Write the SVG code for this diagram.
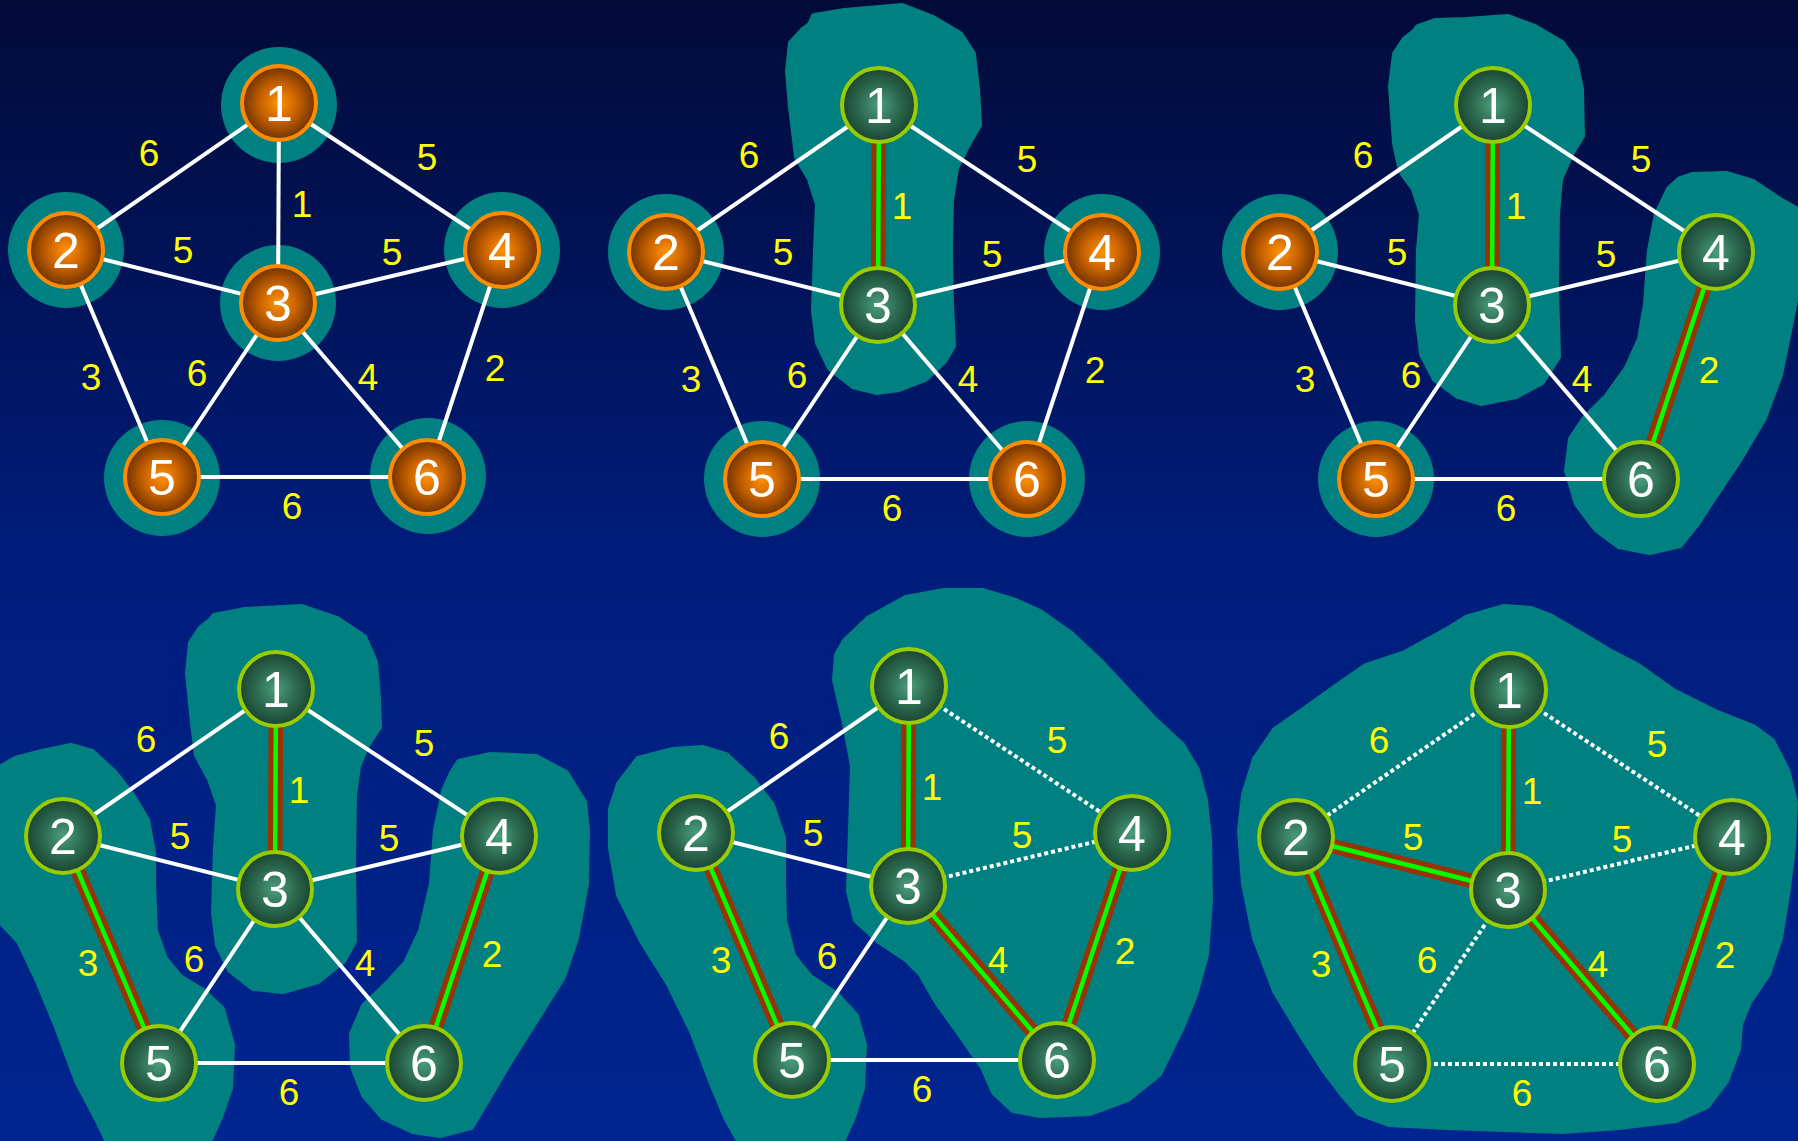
<svg xmlns="http://www.w3.org/2000/svg" width="1798" height="1141" viewBox="0 0 1798 1141">
<defs>
<linearGradient id="bg" x1="0" y1="0" x2="0" y2="1">
<stop offset="0" stop-color="#020a38"/>
<stop offset="0.5" stop-color="#001d7c"/>
<stop offset="1" stop-color="#00258f"/>
</linearGradient>
<radialGradient id="og"><stop offset="0" stop-color="#ff9208"/><stop offset="0.5" stop-color="#c86200"/><stop offset="1" stop-color="#6e3200"/></radialGradient>
<radialGradient id="gg"><stop offset="0" stop-color="#4a9e7c"/><stop offset="0.55" stop-color="#2c6a4f"/><stop offset="1" stop-color="#1a4431"/></radialGradient>
<style>
.t{fill:#008080}
.tb{fill:#008080;stroke:#008080;stroke-width:6;stroke-linejoin:round}
.e{stroke:#fff;stroke-width:4}
.d{stroke:#fff;stroke-width:4;stroke-dasharray:4 3}
.cb{stroke:#993300;stroke-width:14.5}
.cg{stroke:#00ff00;stroke-width:4.5}
.no circle{fill:url(#og);stroke:#ff8c00;stroke-width:4}
.ng circle{fill:url(#gg);stroke:#99cc00;stroke-width:4}
.nl{font-family:"Liberation Sans",Arial,sans-serif;font-size:50px;fill:#fff;text-anchor:middle}
.el{font-family:"Liberation Sans",Arial,sans-serif;font-size:37px;fill:#ffff00;text-anchor:middle}
</style>
</defs>
<rect width="1798" height="1141" fill="url(#bg)"/>

<!-- Panel 1 -->
<g id="panel1">
<g id="p1-regions">
<circle class="t" cx="279" cy="105" r="58"/>
<circle class="t" cx="66" cy="250" r="58"/>
<circle class="t" cx="278" cy="303" r="58"/>
<circle class="t" cx="502" cy="250" r="58"/>
<circle class="t" cx="162" cy="478" r="58"/>
<circle class="t" cx="428" cy="476" r="58"/>
</g>
<g id="p1-connectors">
<line class="e" x1="279" y1="103" x2="66" y2="250"/>
<line class="e" x1="279" y1="103" x2="502" y2="250"/>
<line class="e" x1="279" y1="103" x2="278" y2="303"/>
<line class="e" x1="66" y1="250" x2="278" y2="303"/>
<line class="e" x1="278" y1="303" x2="502" y2="250"/>
<line class="e" x1="66" y1="250" x2="162" y2="477"/>
<line class="e" x1="278" y1="303" x2="162" y2="477"/>
<line class="e" x1="278" y1="303" x2="427" y2="477"/>
<line class="e" x1="502" y1="250" x2="427" y2="477"/>
<line class="e" x1="162" y1="477" x2="427" y2="477"/>
<text class="el" x="149" y="166">6</text>
<text class="el" x="427" y="170">5</text>
<text class="el" x="302" y="217">1</text>
<text class="el" x="183" y="263">5</text>
<text class="el" x="392" y="265">5</text>
<text class="el" x="91" y="390">3</text>
<text class="el" x="197" y="386">6</text>
<text class="el" x="368" y="390">4</text>
<text class="el" x="495" y="381">2</text>
<text class="el" x="292" y="519">6</text>
</g>
<g id="p1-n1" class="no" transform="translate(279,103)"><circle r="37"/><text class="nl" y="18">1</text></g>
<g id="p1-n2" class="no" transform="translate(66,250)"><circle r="37"/><text class="nl" y="18">2</text></g>
<g id="p1-n3" class="no" transform="translate(278,303)"><circle r="37"/><text class="nl" y="18">3</text></g>
<g id="p1-n4" class="no" transform="translate(502,250)"><circle r="37"/><text class="nl" y="18">4</text></g>
<g id="p1-n5" class="no" transform="translate(162,477)"><circle r="37"/><text class="nl" y="18">5</text></g>
<g id="p1-n6" class="no" transform="translate(427,477)"><circle r="37"/><text class="nl" y="18">6</text></g>
</g>

<!-- Panel 2 -->
<g id="panel2">
<g id="p2-regions">
<polygon class="tb" points="814,16 845,11 902,6 933,18 960,34 973,54 977,89 979,125 967,146 956,168 951,200 950,250 951,304 953,346 944,361 925,379 899,389 877,392 853,386 830,368 818,343 814,311 816,250 818,204 810,179 797,157 791,107 788,71 791,43 803,30 810,25"/>
<circle class="t" cx="666" cy="252" r="58"/>
<circle class="t" cx="1102" cy="252" r="58"/>
<circle class="t" cx="762" cy="479" r="58"/>
<circle class="t" cx="1027" cy="479" r="58"/>
</g>
<g transform="translate(600,2)">
<g id="p2-connectors">
<line class="e" x1="279" y1="103" x2="66" y2="250"/>
<line class="e" x1="279" y1="103" x2="502" y2="250"/>
<line class="cb" x1="279" y1="103" x2="278" y2="303"/>
<line class="cg" x1="279" y1="103" x2="278" y2="303"/>
<line class="e" x1="66" y1="250" x2="278" y2="303"/>
<line class="e" x1="278" y1="303" x2="502" y2="250"/>
<line class="e" x1="66" y1="250" x2="162" y2="477"/>
<line class="e" x1="278" y1="303" x2="162" y2="477"/>
<line class="e" x1="278" y1="303" x2="427" y2="477"/>
<line class="e" x1="502" y1="250" x2="427" y2="477"/>
<line class="e" x1="162" y1="477" x2="427" y2="477"/>
<text class="el" x="149" y="166">6</text>
<text class="el" x="427" y="170">5</text>
<text class="el" x="302" y="217">1</text>
<text class="el" x="183" y="263">5</text>
<text class="el" x="392" y="265">5</text>
<text class="el" x="91" y="390">3</text>
<text class="el" x="197" y="386">6</text>
<text class="el" x="368" y="390">4</text>
<text class="el" x="495" y="381">2</text>
<text class="el" x="292" y="519">6</text>
</g>
<g id="p2-n1" class="ng" transform="translate(279,103)"><circle r="37"/><text class="nl" y="18">1</text></g>
<g id="p2-n2" class="no" transform="translate(66,250)"><circle r="37"/><text class="nl" y="18">2</text></g>
<g id="p2-n3" class="ng" transform="translate(278,303)"><circle r="37"/><text class="nl" y="18">3</text></g>
<g id="p2-n4" class="no" transform="translate(502,250)"><circle r="37"/><text class="nl" y="18">4</text></g>
<g id="p2-n5" class="no" transform="translate(162,477)"><circle r="37"/><text class="nl" y="18">5</text></g>
<g id="p2-n6" class="no" transform="translate(427,477)"><circle r="37"/><text class="nl" y="18">6</text></g>
</g>
</g>

<!-- Panel 3 -->
<g id="panel3">
<g id="p3-regions">
<polygon class="tb" points="1418,27 1435,21 1466,20 1508,17 1535,27 1562,43 1575,61 1581,89 1582,136 1571,154 1560,179 1557,214 1556,286 1558,357 1542,382 1516,396 1481,403 1458,396 1435,379 1422,354 1418,321 1419,250 1422,214 1414,189 1401,171 1395,143 1391,86 1395,54 1405,39 1414,32"/>
<polygon class="tb" points="1692,175 1726,174 1753,182 1780,200 1805,214 1805,250 1791,321 1780,375 1764,418 1741,457 1715,496 1696,525 1680,545 1650,552 1619,546 1596,529 1577,504 1567,471 1571,439 1585,418 1607,396 1627,368 1640,339 1646,304 1650,250 1657,214 1669,189 1680,179"/>
<circle class="t" cx="1280" cy="252" r="58"/>
<circle class="t" cx="1376" cy="479" r="58"/>
</g>
<g transform="translate(1214,2)">
<g id="p3-connectors">
<line class="e" x1="279" y1="103" x2="66" y2="250"/>
<line class="e" x1="279" y1="103" x2="502" y2="250"/>
<line class="cb" x1="279" y1="103" x2="278" y2="303"/>
<line class="cg" x1="279" y1="103" x2="278" y2="303"/>
<line class="e" x1="66" y1="250" x2="278" y2="303"/>
<line class="e" x1="278" y1="303" x2="502" y2="250"/>
<line class="e" x1="66" y1="250" x2="162" y2="477"/>
<line class="e" x1="278" y1="303" x2="162" y2="477"/>
<line class="e" x1="278" y1="303" x2="427" y2="477"/>
<line class="cb" x1="502" y1="250" x2="427" y2="477"/>
<line class="cg" x1="502" y1="250" x2="427" y2="477"/>
<line class="e" x1="162" y1="477" x2="427" y2="477"/>
<text class="el" x="149" y="166">6</text>
<text class="el" x="427" y="170">5</text>
<text class="el" x="302" y="217">1</text>
<text class="el" x="183" y="263">5</text>
<text class="el" x="392" y="265">5</text>
<text class="el" x="91" y="390">3</text>
<text class="el" x="197" y="386">6</text>
<text class="el" x="368" y="390">4</text>
<text class="el" x="495" y="381">2</text>
<text class="el" x="292" y="519">6</text>
</g>
<g id="p3-n1" class="ng" transform="translate(279,103)"><circle r="37"/><text class="nl" y="18">1</text></g>
<g id="p3-n2" class="no" transform="translate(66,250)"><circle r="37"/><text class="nl" y="18">2</text></g>
<g id="p3-n3" class="ng" transform="translate(278,303)"><circle r="37"/><text class="nl" y="18">3</text></g>
<g id="p3-n4" class="ng" transform="translate(502,250)"><circle r="37"/><text class="nl" y="18">4</text></g>
<g id="p3-n5" class="no" transform="translate(162,477)"><circle r="37"/><text class="nl" y="18">5</text></g>
<g id="p3-n6" class="ng" transform="translate(427,477)"><circle r="37"/><text class="nl" y="18">6</text></g>
</g>
</g>

<!-- Panel 4 -->
<g id="panel4">
<g id="p4-regions">
<polygon class="tb" points="214,616 245,610 302,607 337,619 364,637 375,662 378,698 379,727 367,745 358,766 354,795 353,866 354,941 343,961 318,981 283,991 253,988 230,970 218,945 214,913 216,848 219,805 210,779 197,755 193,723 188,673 191,643 201,628 210,621"/>
<polygon class="tb" points="-5,771 15,759 42,752 71,746 92,752 115,773 132,795 147,820 153,852 153,884 155,931 165,959 180,977 203,991 222,1009 232,1045 230,1088 220,1117 207,1146 110,1146 96,1117 77,1081 57,1027 38,981 19,941 -5,916"/>
<polygon class="tb" points="459,762 490,755 536,757 566,773 584,802 587,830 586,884 576,938 563,977 536,1020 509,1063 486,1102 471,1127 440,1135 413,1131 383,1117 364,1095 353,1067 352,1034 364,1006 387,984 406,963 421,931 432,884 436,830 444,791 452,773"/>
</g>
<g transform="translate(-3,586)">
<g id="p4-connectors">
<line class="e" x1="279" y1="103" x2="66" y2="250"/>
<line class="e" x1="279" y1="103" x2="502" y2="250"/>
<line class="cb" x1="279" y1="103" x2="278" y2="303"/>
<line class="cg" x1="279" y1="103" x2="278" y2="303"/>
<line class="e" x1="66" y1="250" x2="278" y2="303"/>
<line class="e" x1="278" y1="303" x2="502" y2="250"/>
<line class="cb" x1="66" y1="250" x2="162" y2="477"/>
<line class="cg" x1="66" y1="250" x2="162" y2="477"/>
<line class="e" x1="278" y1="303" x2="162" y2="477"/>
<line class="e" x1="278" y1="303" x2="427" y2="477"/>
<line class="cb" x1="502" y1="250" x2="427" y2="477"/>
<line class="cg" x1="502" y1="250" x2="427" y2="477"/>
<line class="e" x1="162" y1="477" x2="427" y2="477"/>
<text class="el" x="149" y="166">6</text>
<text class="el" x="427" y="170">5</text>
<text class="el" x="302" y="217">1</text>
<text class="el" x="183" y="263">5</text>
<text class="el" x="392" y="265">5</text>
<text class="el" x="91" y="390">3</text>
<text class="el" x="197" y="386">6</text>
<text class="el" x="368" y="390">4</text>
<text class="el" x="495" y="381">2</text>
<text class="el" x="292" y="519">6</text>
</g>
<g id="p4-n1" class="ng" transform="translate(279,103)"><circle r="37"/><text class="nl" y="18">1</text></g>
<g id="p4-n2" class="ng" transform="translate(66,250)"><circle r="37"/><text class="nl" y="18">2</text></g>
<g id="p4-n3" class="ng" transform="translate(278,303)"><circle r="37"/><text class="nl" y="18">3</text></g>
<g id="p4-n4" class="ng" transform="translate(502,250)"><circle r="37"/><text class="nl" y="18">4</text></g>
<g id="p4-n5" class="ng" transform="translate(162,477)"><circle r="37"/><text class="nl" y="18">5</text></g>
<g id="p4-n6" class="ng" transform="translate(427,477)"><circle r="37"/><text class="nl" y="18">6</text></g>
</g>
</g>

<!-- Panel 5 -->
<g id="panel5">
<g id="p5-regions">
<polygon class="tb" points="638,759 673,750 703,748 726,755 753,780 772,805 783,838 783,884 784,920 793,956 810,977 837,995 856,1016 864,1045 862,1088 853,1117 840,1146 742,1146 726,1117 711,1081 692,1031 669,984 642,941 619,895 611,848 611,809 619,784"/>
<polygon class="tb" points="845,641 868,619 906,598 944,591 983,591 1013,600 1040,612 1071,634 1101,662 1128,691 1155,720 1182,745 1197,770 1205,800 1209,840 1210,900 1206,955 1195,995 1182,1027 1159,1074 1128,1099 1090,1113 1040,1115 1013,1110 994,1092 983,1067 960,1034 937,1002 921,974 906,959 879,941 856,920 849,891 851,830 853,766 845,723 835,680 837,655"/>
</g>
<g transform="translate(630,583)">
<g id="p5-connectors">
<line class="e" x1="279" y1="103" x2="66" y2="250"/>
<line class="d" x1="279" y1="103" x2="502" y2="250"/>
<line class="cb" x1="279" y1="103" x2="278" y2="303"/>
<line class="cg" x1="279" y1="103" x2="278" y2="303"/>
<line class="e" x1="66" y1="250" x2="278" y2="303"/>
<line class="d" x1="278" y1="303" x2="502" y2="250"/>
<line class="cb" x1="66" y1="250" x2="162" y2="477"/>
<line class="cg" x1="66" y1="250" x2="162" y2="477"/>
<line class="e" x1="278" y1="303" x2="162" y2="477"/>
<line class="cb" x1="278" y1="303" x2="427" y2="477"/>
<line class="cg" x1="278" y1="303" x2="427" y2="477"/>
<line class="cb" x1="502" y1="250" x2="427" y2="477"/>
<line class="cg" x1="502" y1="250" x2="427" y2="477"/>
<line class="e" x1="162" y1="477" x2="427" y2="477"/>
<text class="el" x="149" y="166">6</text>
<text class="el" x="427" y="170">5</text>
<text class="el" x="302" y="217">1</text>
<text class="el" x="183" y="263">5</text>
<text class="el" x="392" y="265">5</text>
<text class="el" x="91" y="390">3</text>
<text class="el" x="197" y="386">6</text>
<text class="el" x="368" y="390">4</text>
<text class="el" x="495" y="381">2</text>
<text class="el" x="292" y="519">6</text>
</g>
<g id="p5-n1" class="ng" transform="translate(279,103)"><circle r="37"/><text class="nl" y="18">1</text></g>
<g id="p5-n2" class="ng" transform="translate(66,250)"><circle r="37"/><text class="nl" y="18">2</text></g>
<g id="p5-n3" class="ng" transform="translate(278,303)"><circle r="37"/><text class="nl" y="18">3</text></g>
<g id="p5-n4" class="ng" transform="translate(502,250)"><circle r="37"/><text class="nl" y="18">4</text></g>
<g id="p5-n5" class="ng" transform="translate(162,477)"><circle r="37"/><text class="nl" y="18">5</text></g>
<g id="p5-n6" class="ng" transform="translate(427,477)"><circle r="37"/><text class="nl" y="18">6</text></g>
</g>
</g>

<!-- Panel 6 -->
<g id="panel6">
<g id="p6-regions">
<polygon class="tb" points="1504,607 1466,618 1447,630 1405,653 1366,666 1340,684 1305,709 1275,730 1255,759 1244,795 1240,830 1244,884 1255,938 1275,991 1301,1034 1324,1070 1343,1095 1359,1113 1389,1124 1447,1127 1504,1129 1562,1131 1619,1127 1676,1120 1707,1106 1726,1081 1738,1049 1740,1024 1749,1002 1768,974 1780,938 1787,895 1793,848 1795,802 1787,770 1772,741 1753,727 1715,712 1673,691 1638,666 1611,652 1581,634 1550,616 1531,609"/>
</g>
<g transform="translate(1230,587)">
<g id="p6-connectors">
<line class="d" x1="279" y1="103" x2="66" y2="250"/>
<line class="d" x1="279" y1="103" x2="502" y2="250"/>
<line class="cb" x1="279" y1="103" x2="278" y2="303"/>
<line class="cg" x1="279" y1="103" x2="278" y2="303"/>
<line class="cb" x1="66" y1="250" x2="278" y2="303"/>
<line class="cg" x1="66" y1="250" x2="278" y2="303"/>
<line class="d" x1="278" y1="303" x2="502" y2="250"/>
<line class="cb" x1="66" y1="250" x2="162" y2="477"/>
<line class="cg" x1="66" y1="250" x2="162" y2="477"/>
<line class="d" x1="278" y1="303" x2="162" y2="477"/>
<line class="cb" x1="278" y1="303" x2="427" y2="477"/>
<line class="cg" x1="278" y1="303" x2="427" y2="477"/>
<line class="cb" x1="502" y1="250" x2="427" y2="477"/>
<line class="cg" x1="502" y1="250" x2="427" y2="477"/>
<line class="d" x1="162" y1="477" x2="427" y2="477"/>
<text class="el" x="149" y="166">6</text>
<text class="el" x="427" y="170">5</text>
<text class="el" x="302" y="217">1</text>
<text class="el" x="183" y="263">5</text>
<text class="el" x="392" y="265">5</text>
<text class="el" x="91" y="390">3</text>
<text class="el" x="197" y="386">6</text>
<text class="el" x="368" y="390">4</text>
<text class="el" x="495" y="381">2</text>
<text class="el" x="292" y="519">6</text>
</g>
<g id="p6-n1" class="ng" transform="translate(279,103)"><circle r="37"/><text class="nl" y="18">1</text></g>
<g id="p6-n2" class="ng" transform="translate(66,250)"><circle r="37"/><text class="nl" y="18">2</text></g>
<g id="p6-n3" class="ng" transform="translate(278,303)"><circle r="37"/><text class="nl" y="18">3</text></g>
<g id="p6-n4" class="ng" transform="translate(502,250)"><circle r="37"/><text class="nl" y="18">4</text></g>
<g id="p6-n5" class="ng" transform="translate(162,477)"><circle r="37"/><text class="nl" y="18">5</text></g>
<g id="p6-n6" class="ng" transform="translate(427,477)"><circle r="37"/><text class="nl" y="18">6</text></g>
</g>
</g>
</svg>
